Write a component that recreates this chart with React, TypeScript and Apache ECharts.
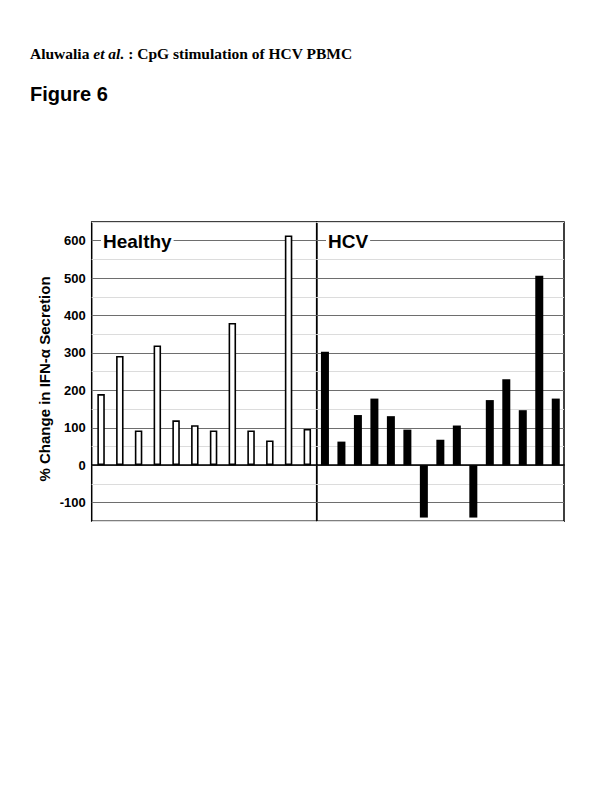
import React, { useEffect, useRef } from "react";
import * as echarts from "echarts";

const healthyCats = ["H1","H2","H3","H4","H5","H6","H7","H8","H9","H10","H11","H12"];
const healthyValues = [190, 292, 93, 320, 120, 107, 93, 380, 93, 66, 614, 97];
const hcvCats = ["C1","C2","C3","C4","C5","C6","C7","C8","C9","C10","C11","C12","C13","C14","C15"];
const hcvValues = [303, 63, 134, 178, 131, 95, -140, 68, 106, -140, 174, 230, 147, 506, 178];
const yMin = -150;
const yMax = 650;
const yStep = 50;
const panelLabels = ["Healthy", "HCV"];
const headerText = "Aluwalia";
const headerItalic = "et al.";
const headerRest = " : CpG stimulation of HCV PBMC";
const figureText = "Figure 6";
const yAxisTitle = "% Change in IFN-\u03b1 Secretion";

export default function App() {
  const ref = useRef<HTMLDivElement>(null);
  useEffect(() => {
    if (!ref.current) return;
    const chart = echarts.init(ref.current, null, { renderer: "svg" });
    const top = 222;
    const height = 299.3;
    const gridCommon = {
      top,
      height,
      show: true,
      borderColor: "#000",
      borderWidth: 1.5,
      backgroundColor: "transparent",
    };
    const yAxisCommon = (showLabels: boolean, gi: number) => ({
      type: "value" as const,
      gridIndex: gi,
      min: yMin,
      max: yMax,
      interval: yStep,
      axisLine: { show: false },
      axisTick: { show: false },
      axisLabel: {
        show: showLabels,
        formatter: (v: number) => (v % 100 === 0 ? String(v) : ""),
        color: "#000",
        fontFamily: "Liberation Sans, Arial, sans-serif",
        fontWeight: "bold",
        fontSize: 13,
        margin: 6,
      },
      splitLine: {
        show: true,
        lineStyle: { color: ["#dcdcdc", "#6e6e6e"], width: 1 },
      },
    });
    const xAxisCommon = (cats: string[], gi: number) => ({
      type: "category" as const,
      gridIndex: gi,
      data: cats,
      axisLine: { show: true, onZero: true, lineStyle: { color: "#000", width: 1.5 } },
      axisTick: { show: false },
      axisLabel: { show: false },
      splitLine: { show: false },
    });
    chart.setOption({
      animation: false,
      backgroundColor: "#fff",
      grid: [
        { ...gridCommon, left: 91.7, width: 225 },
        { ...gridCommon, left: 316.7, width: 247.3 },
      ],
      xAxis: [xAxisCommon(healthyCats, 0), xAxisCommon(hcvCats, 1)],
      yAxis: [yAxisCommon(true, 0), yAxisCommon(false, 1)],
      series: [
        {
          type: "bar",
          xAxisIndex: 0,
          yAxisIndex: 0,
          data: healthyValues,
          barWidth: 7.5,
          itemStyle: { color: "#fff", borderColor: "#000", borderWidth: 1.6 },
        },
        {
          type: "bar",
          xAxisIndex: 1,
          yAxisIndex: 1,
          data: hcvValues,
          barWidth: 8,
          itemStyle: { color: "#000" },
        },
      ],
      graphic: [
        {
          type: "text",
          left: 30,
          top: 45,
          style: {
            text: `{b|${headerText} }{i|${headerItalic}}{b|${headerRest}}`,
            rich: {
              b: { fontFamily: "Liberation Serif, Times New Roman, serif", fontWeight: "bold", fontSize: 15.5, fill: "#000" },
              i: { fontFamily: "Liberation Serif, Times New Roman, serif", fontWeight: "bold", fontStyle: "italic", fontSize: 15.5, fill: "#000" },
            },
          },
        },
        {
          type: "text",
          left: 30,
          top: 84,
          style: {
            text: figureText,
            fontFamily: "Liberation Sans, Arial, sans-serif",
            fontWeight: "bold",
            fontSize: 20,
            fill: "#000",
          },
        },
        {
          type: "text",
          x: 101,
          y: 241,
          z: 100,
          style: {
            text: panelLabels[0],
            fontFamily: "Liberation Sans, Arial, sans-serif",
            fontWeight: "bold",
            fontSize: 19,
            fill: "#000",
            verticalAlign: "middle",
            backgroundColor: "#fff",
            padding: [0, 2, 0, 2],
          },
        },
        {
          type: "text",
          x: 326,
          y: 241,
          z: 100,
          style: {
            text: panelLabels[1],
            fontFamily: "Liberation Sans, Arial, sans-serif",
            fontWeight: "bold",
            fontSize: 19,
            fill: "#000",
            verticalAlign: "middle",
            backgroundColor: "#fff",
            padding: [0, 2, 0, 2],
          },
        },
        {
          type: "text",
          x: 44,
          y: 379,
          rotation: Math.PI / 2,
          style: {
            text: yAxisTitle,
            fontFamily: "Liberation Sans, Arial, sans-serif",
            fontWeight: "bold",
            fontSize: 15,
            fill: "#000",
            align: "center",
            verticalAlign: "middle",
          },
        },
      ],
    });
    return () => chart.dispose();
  }, []);
  return (
    <div
      ref={ref}
      style={{ position: "fixed", left: 0, top: 0, width: 600, height: 800, background: "#fff" }}
    />
  );
}
